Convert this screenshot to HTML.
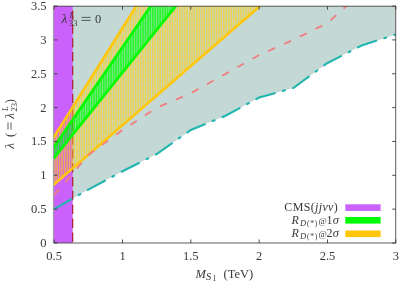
<!DOCTYPE html>
<html><head><meta charset="utf-8">
<style>
html,body{margin:0;padding:0;background:#fff;}
body{width:399px;height:282px;overflow:hidden;font-family:"Liberation Serif",serif;}
svg{display:block;will-change:transform;}
text{font-family:"Liberation Serif",serif;fill:#383838;}
.i{font-style:italic;}
</style></head><body>
<svg width="399" height="282" viewBox="0 0 399 282">
<defs>
  <clipPath id="cp"><rect x="53.6" y="6" width="342.2" height="237"/></clipPath>
  <clipPath id="cy"><polygon points="54.15,136.6 136.3,6 150.8,6 54.15,146.6"/><polygon points="54.15,157.8 175.9,6 260.1,6 54.15,184.5"/></clipPath>
  <clipPath id="cg"><polygon points="54.15,146.6 150.8,6 175.9,6 54.15,157.8"/></clipPath>
</defs>
<rect width="399" height="282" fill="#fff"/>
<line x1="53.4" y1="6" x2="53.4" y2="243" stroke="#8a8a8a" stroke-width="0.9"/>
<g clip-path="url(#cp)">
  <polygon fill="#c4d8d6" points="54.15,209 88.3,189.6 122.5,171.3 156.7,154 190.8,130 225,116 259.2,97.5 293.3,88 327.5,63 361.7,45.5 395.8,34.5 395.8,6 54.15,6"/>
  <rect x="53.9" y="6" width="18.8" height="237" fill="#ca61fb"/>
  <line x1="72.7" y1="243" x2="72.7" y2="6" stroke="#a81c2c" stroke-width="1.2" stroke-dasharray="9.4 4.47" stroke-dashoffset="12.67"/>
  <g clip-path="url(#cy)"><rect x="54" y="6" width="208" height="180" fill="#ffd00c" fill-opacity="0.08"/><path d="M54.80,6V243M57.25,6V243M59.70,6V243M62.15,6V243M64.60,6V243M67.05,6V243M69.50,6V243M71.95,6V243M74.40,6V243M76.85,6V243M79.30,6V243M81.75,6V243M84.20,6V243M86.65,6V243M89.10,6V243M91.55,6V243M94.00,6V243M96.45,6V243M98.90,6V243M101.35,6V243M103.80,6V243M106.25,6V243M108.70,6V243M111.15,6V243M113.60,6V243M116.05,6V243M118.50,6V243M120.95,6V243M123.40,6V243M125.85,6V243M128.30,6V243M130.75,6V243M133.20,6V243M135.65,6V243M138.10,6V243M140.55,6V243M143.00,6V243M145.45,6V243M147.90,6V243M150.35,6V243M152.80,6V243M155.25,6V243M157.70,6V243M160.15,6V243M162.60,6V243M165.05,6V243M167.50,6V243M169.95,6V243M172.40,6V243M174.85,6V243M177.30,6V243M179.75,6V243M182.20,6V243M184.65,6V243M187.10,6V243M189.55,6V243M192.00,6V243M194.45,6V243M196.90,6V243M199.35,6V243M201.80,6V243M204.25,6V243M206.70,6V243M209.15,6V243M211.60,6V243M214.05,6V243M216.50,6V243M218.95,6V243M221.40,6V243M223.85,6V243M226.30,6V243M228.75,6V243M231.20,6V243M233.65,6V243M236.10,6V243M238.55,6V243M241.00,6V243M243.45,6V243M245.90,6V243M248.35,6V243M250.80,6V243M253.25,6V243M255.70,6V243M258.15,6V243M260.60,6V243" stroke="#ffd00c" stroke-width="1.5" stroke-opacity="0.5" fill="none"/><path d="M54.80,6V243M57.25,6V243M59.70,6V243M62.15,6V243M64.60,6V243M67.05,6V243M69.50,6V243M71.95,6V243M74.40,6V243M76.85,6V243M79.30,6V243M81.75,6V243M84.20,6V243M86.65,6V243M89.10,6V243M91.55,6V243M94.00,6V243M96.45,6V243M98.90,6V243M101.35,6V243M103.80,6V243M106.25,6V243M108.70,6V243M111.15,6V243M113.60,6V243M116.05,6V243M118.50,6V243M120.95,6V243M123.40,6V243M125.85,6V243M128.30,6V243M130.75,6V243M133.20,6V243M135.65,6V243M138.10,6V243M140.55,6V243M143.00,6V243M145.45,6V243M147.90,6V243M150.35,6V243M152.80,6V243M155.25,6V243M157.70,6V243M160.15,6V243M162.60,6V243M165.05,6V243M167.50,6V243M169.95,6V243M172.40,6V243M174.85,6V243M177.30,6V243M179.75,6V243M182.20,6V243M184.65,6V243M187.10,6V243M189.55,6V243M192.00,6V243M194.45,6V243M196.90,6V243M199.35,6V243M201.80,6V243M204.25,6V243M206.70,6V243M209.15,6V243M211.60,6V243M214.05,6V243M216.50,6V243M218.95,6V243M221.40,6V243M223.85,6V243M226.30,6V243M228.75,6V243M231.20,6V243M233.65,6V243M236.10,6V243M238.55,6V243M241.00,6V243M243.45,6V243M245.90,6V243M248.35,6V243M250.80,6V243M253.25,6V243M255.70,6V243M258.15,6V243M260.60,6V243" stroke="#ffd00c" stroke-width="0.5" stroke-opacity="0.6" fill="none"/><path d="M54,6.75H262M54,13.00H262M54,19.25H262M54,25.50H262M54,31.75H262M54,38.00H262M54,44.25H262M54,50.50H262M54,56.75H262M54,63.00H262M54,69.25H262M54,75.50H262M54,81.75H262M54,88.00H262M54,94.25H262M54,100.50H262M54,106.75H262M54,113.00H262M54,119.25H262M54,125.50H262M54,131.75H262M54,138.00H262M54,144.25H262M54,150.50H262M54,156.75H262M54,163.00H262M54,169.25H262M54,175.50H262M54,181.75H262M54,188.00H262" stroke="#ffd00c" stroke-width="0.8" stroke-opacity="0.22" fill="none"/></g>
  <g clip-path="url(#cg)"><rect x="54" y="6" width="124" height="155" fill="#00ff00" fill-opacity="0.28"/><path d="M54.80,6V243M57.25,6V243M59.70,6V243M62.15,6V243M64.60,6V243M67.05,6V243M69.50,6V243M71.95,6V243M74.40,6V243M76.85,6V243M79.30,6V243M81.75,6V243M84.20,6V243M86.65,6V243M89.10,6V243M91.55,6V243M94.00,6V243M96.45,6V243M98.90,6V243M101.35,6V243M103.80,6V243M106.25,6V243M108.70,6V243M111.15,6V243M113.60,6V243M116.05,6V243M118.50,6V243M120.95,6V243M123.40,6V243M125.85,6V243M128.30,6V243M130.75,6V243M133.20,6V243M135.65,6V243M138.10,6V243M140.55,6V243M143.00,6V243M145.45,6V243M147.90,6V243M150.35,6V243M152.80,6V243M155.25,6V243M157.70,6V243M160.15,6V243M162.60,6V243M165.05,6V243M167.50,6V243M169.95,6V243M172.40,6V243M174.85,6V243M177.30,6V243" stroke="#00ff00" stroke-width="1.7" stroke-opacity="0.58" fill="none"/><path d="M54.80,6V243M57.25,6V243M59.70,6V243M62.15,6V243M64.60,6V243M67.05,6V243M69.50,6V243M71.95,6V243M74.40,6V243M76.85,6V243M79.30,6V243M81.75,6V243M84.20,6V243M86.65,6V243M89.10,6V243M91.55,6V243M94.00,6V243M96.45,6V243M98.90,6V243M101.35,6V243M103.80,6V243M106.25,6V243M108.70,6V243M111.15,6V243M113.60,6V243M116.05,6V243M118.50,6V243M120.95,6V243M123.40,6V243M125.85,6V243M128.30,6V243M130.75,6V243M133.20,6V243M135.65,6V243M138.10,6V243M140.55,6V243M143.00,6V243M145.45,6V243M147.90,6V243M150.35,6V243M152.80,6V243M155.25,6V243M157.70,6V243M160.15,6V243M162.60,6V243M165.05,6V243M167.50,6V243M169.95,6V243M172.40,6V243M174.85,6V243M177.30,6V243" stroke="#00ff00" stroke-width="0.8" stroke-opacity="0.5" fill="none"/></g>
  <g fill="none" stroke-width="2.55" stroke="#ffc60a">
    <line x1="53.4" y1="137.79" x2="136.3" y2="6.0"/>
    <line x1="53.4" y1="185.15" x2="260.1" y2="6.0"/>
  </g>
  <g fill="none" stroke-width="2.7" stroke="#00fa00">
    <line x1="53.4" y1="147.69" x2="150.8" y2="6.0"/>
    <line x1="53.4" y1="158.74" x2="175.9" y2="6.0"/>
  </g>
  <polyline fill="none" stroke="#f08080" stroke-width="1.9" stroke-dasharray="7.6 9.8" points="54.15,195 88.3,155 122.5,130.2 156.7,107.7 190.8,93.2 225,74.2 259.2,55 293.3,39.9 327.5,23 361.7,-7.6"/>
  <polyline fill="none" stroke="#22b6b1" stroke-width="2.1" stroke-linecap="round" stroke-dasharray="19.4 8.5 2 8.5" stroke-dashoffset="-0.3" points="54.15,209 88.3,189.6 122.5,171.3 156.7,154 190.8,130 225,116 259.2,97.5 293.3,88 327.5,63 361.7,45.5 395.8,34.5"/>
</g>
<!-- border -->
<path d="M53.5,6.2 H395.7 V243 H53.5" fill="none" stroke="#404040" stroke-width="0.85"/>
<!-- ticks -->
<g stroke="#3a3a3a" stroke-width="0.9"><line x1="54.15" y1="243" x2="54.15" y2="239.5"/><line x1="54.15" y1="6.1" x2="54.15" y2="9.6"/><line x1="122.48" y1="243" x2="122.48" y2="239.5"/><line x1="122.48" y1="6.1" x2="122.48" y2="9.6"/><line x1="190.81" y1="243" x2="190.81" y2="239.5"/><line x1="190.81" y1="6.1" x2="190.81" y2="9.6"/><line x1="259.14" y1="243" x2="259.14" y2="239.5"/><line x1="259.14" y1="6.1" x2="259.14" y2="9.6"/><line x1="327.47" y1="243" x2="327.47" y2="239.5"/><line x1="327.47" y1="6.1" x2="327.47" y2="9.6"/><line x1="395.80" y1="243" x2="395.80" y2="239.5"/><line x1="395.80" y1="6.1" x2="395.80" y2="9.6"/><line x1="54" y1="243.00" x2="57.5" y2="243.00"/><line x1="395.7" y1="243.00" x2="392.2" y2="243.00"/><line x1="54" y1="209.15" x2="57.5" y2="209.15"/><line x1="395.7" y1="209.15" x2="392.2" y2="209.15"/><line x1="54" y1="175.30" x2="57.5" y2="175.30"/><line x1="395.7" y1="175.30" x2="392.2" y2="175.30"/><line x1="54" y1="141.45" x2="57.5" y2="141.45"/><line x1="395.7" y1="141.45" x2="392.2" y2="141.45"/><line x1="54" y1="107.60" x2="57.5" y2="107.60"/><line x1="395.7" y1="107.60" x2="392.2" y2="107.60"/><line x1="54" y1="73.75" x2="57.5" y2="73.75"/><line x1="395.7" y1="73.75" x2="392.2" y2="73.75"/><line x1="54" y1="39.90" x2="57.5" y2="39.90"/><line x1="395.7" y1="39.90" x2="392.2" y2="39.90"/><line x1="54" y1="6.05" x2="57.5" y2="6.05"/><line x1="395.7" y1="6.05" x2="392.2" y2="6.05"/></g>
<!-- tick labels -->
<g font-size="12.5" text-anchor="end"><text x="46.6" y="247.0">0</text><text x="46.6" y="213.2">0.5</text><text x="46.6" y="179.3">1</text><text x="46.6" y="145.4">1.5</text><text x="46.6" y="111.6">2</text><text x="46.6" y="77.8">2.5</text><text x="46.6" y="43.9">3</text><text x="46.6" y="10.0">3.5</text></g>
<g font-size="12.5" text-anchor="middle"><text x="54.1" y="259.6">0.5</text><text x="122.5" y="259.6">1</text><text x="190.8" y="259.6">1.5</text><text x="259.1" y="259.6">2</text><text x="327.5" y="259.6">2.5</text><text x="395.8" y="259.6">3</text></g>
<!-- x label -->
<g font-size="12.5">
  <text x="195.5" y="278" class="i">M</text>
  <text x="206" y="280.2" font-size="10.5" class="i">S</text>
  <text x="212.6" y="281" font-size="7.5">1</text>
  <text x="223.6" y="278">(TeV)</text>
</g>
<!-- y label -->
<g transform="translate(13.9,148.8) rotate(-90)" font-size="12.5">
  <text x="0" y="0" class="i" font-size="13.5">λ</text>
  <text x="11.8" y="0">(</text>
  <path d="M19.2,-5.9 h7.2 M19.2,-2.9 h7.2" stroke="#383838" stroke-width="0.8" fill="none"/>
  <text x="30" y="0" class="i" font-size="13">λ</text>
  <text x="37.8" y="-5.5" font-size="8.5" class="i">L</text>
  <text x="37.2" y="3" font-size="8.5">23</text>
  <text x="45.6" y="0">)</text>
</g>
<!-- annotation -->
<g font-size="12.5">
  <text x="61.5" y="23.3" class="i" font-size="13.5">λ</text>
  <text x="69.6" y="17.8" font-size="8.5" class="i">L</text>
  <text x="69" y="26.3" font-size="8.5">33</text>
  <path d="M81.6,17.4 h9 M81.6,20.4 h9" stroke="#383838" stroke-width="0.8" fill="none"/>
  <text x="95" y="23.3">0</text>
</g>
<!-- legend -->
<g font-size="12">
  <text x="284.3" y="211.4" textLength="53.5" lengthAdjust="spacing">CMS(<tspan class="i">jjνν</tspan>)</text>
  <text x="291.6" y="224.2" class="i">R</text>
  <text x="300" y="226.39999999999998" font-size="8.5" class="i">D</text>
  <text x="307" y="225.89999999999998" font-size="7.4" letter-spacing="0.8">(*)</text>
  <text x="318.4" y="223.6" font-size="9">@</text>
  <text x="326.4" y="224.2">1<tspan class="i" font-size="12.5" dx="0.3">σ</tspan></text>
  <text x="291.6" y="237.2" class="i">R</text>
  <text x="300" y="239.39999999999998" font-size="8.5" class="i">D</text>
  <text x="307" y="238.89999999999998" font-size="7.4" letter-spacing="0.8">(*)</text>
  <text x="318.4" y="236.6" font-size="9">@</text>
  <text x="326.4" y="237.2">2<tspan class="i" font-size="12.5" dx="0.3">σ</tspan></text>
</g>
<rect x="345.3" y="204.3" width="35.3" height="6.6" fill="#ca61fb"/>
<rect x="345.3" y="217" width="35.3" height="6.6" fill="#00fb00"/>
<rect x="345.3" y="230.5" width="35.3" height="6.6" fill="#ffc60a"/>
</svg>
</body></html>
